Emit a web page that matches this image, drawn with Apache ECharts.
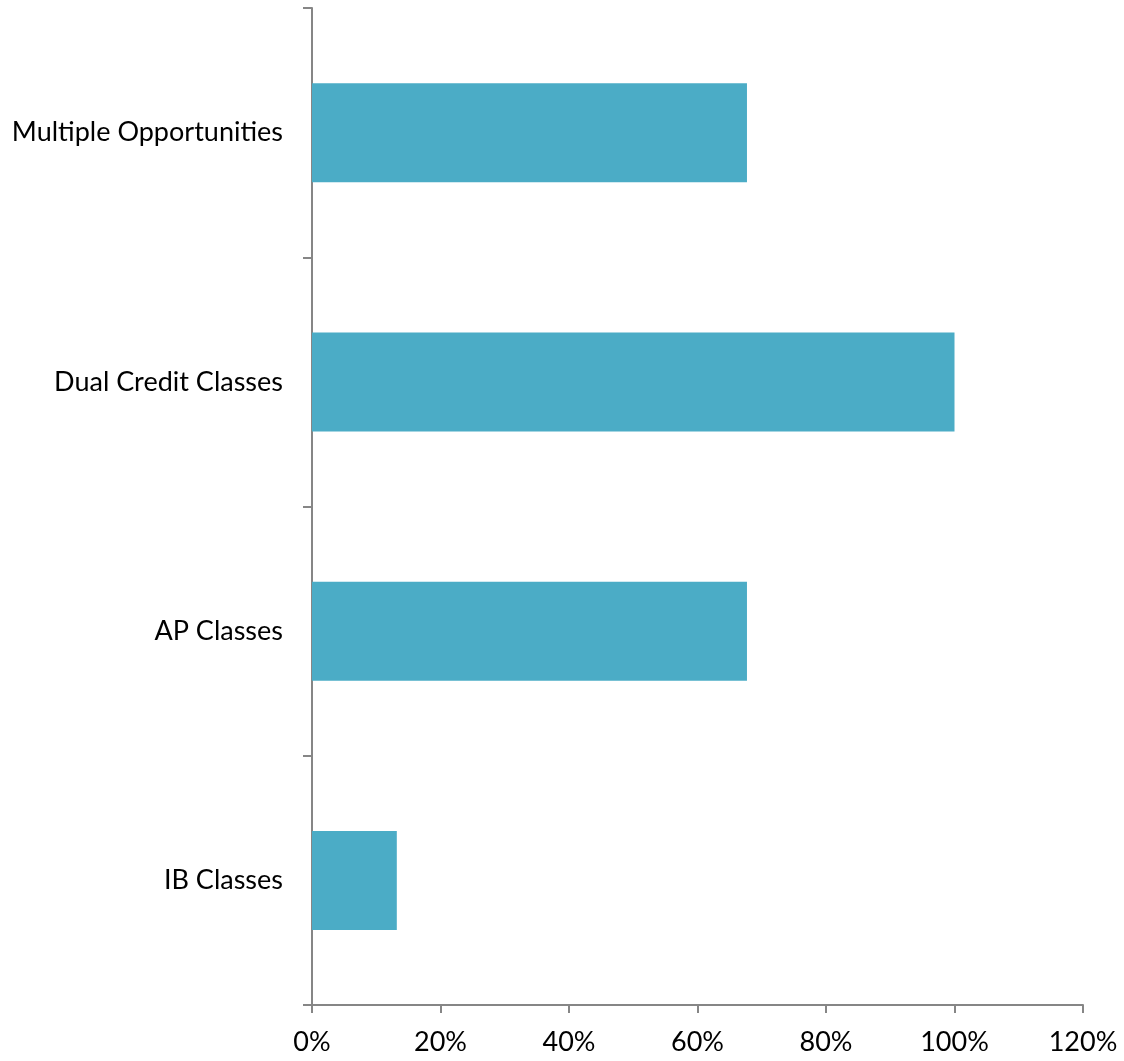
<!DOCTYPE html>
<html><head><meta charset="utf-8">
<script src="https://cdn.jsdelivr.net/npm/echarts@6/dist/echarts.min.js"></script>
<style>html,body{margin:0;padding:0;background:#fff}#c{width:1124px;height:1061px}</style>
</head><body><div id="c"></div>
<script>
const categories = ["IB Classes", "AP Classes", "Dual Credit Classes", "Multiple Opportunities"];
const values = [13.2, 67.7, 100, 67.7];
const xTicks = [0, 20, 40, 60, 80, 100, 120];

const chart = echarts.init(document.getElementById('c'), null, {renderer: 'canvas'});
const font = 'Lato, "Open Sans", sans-serif';
chart.setOption({
  animation: false,
  grid: {left: 312, right: 41, top: 8, bottom: 56, containLabel: false},
  xAxis: {
    type: 'value', min: xTicks[0], max: xTicks[xTicks.length - 1], interval: xTicks[1] - xTicks[0],
    axisLine: {show: true, lineStyle: {color: '#868686', width: 2}},
    axisTick: {show: true, length: 8, lineStyle: {color: '#868686', width: 2}},
    splitLine: {show: false},
    axisLabel: {formatter: v => v + '%', color: '#000', fontFamily: font, fontSize: 27, margin: 24}
  },
  yAxis: {
    type: 'category', data: categories,
    axisLine: {show: true, lineStyle: {color: '#868686', width: 2}},
    axisTick: {show: true, length: 9, lineStyle: {color: '#868686', width: 2}},
    axisLabel: {color: '#000', fontFamily: font, fontSize: 27, margin: 29}
  },
  series: [{
    type: 'bar', data: values, barWidth: 99,
    itemStyle: {color: '#4BACC6'}
  }]
});
</script></body></html>
